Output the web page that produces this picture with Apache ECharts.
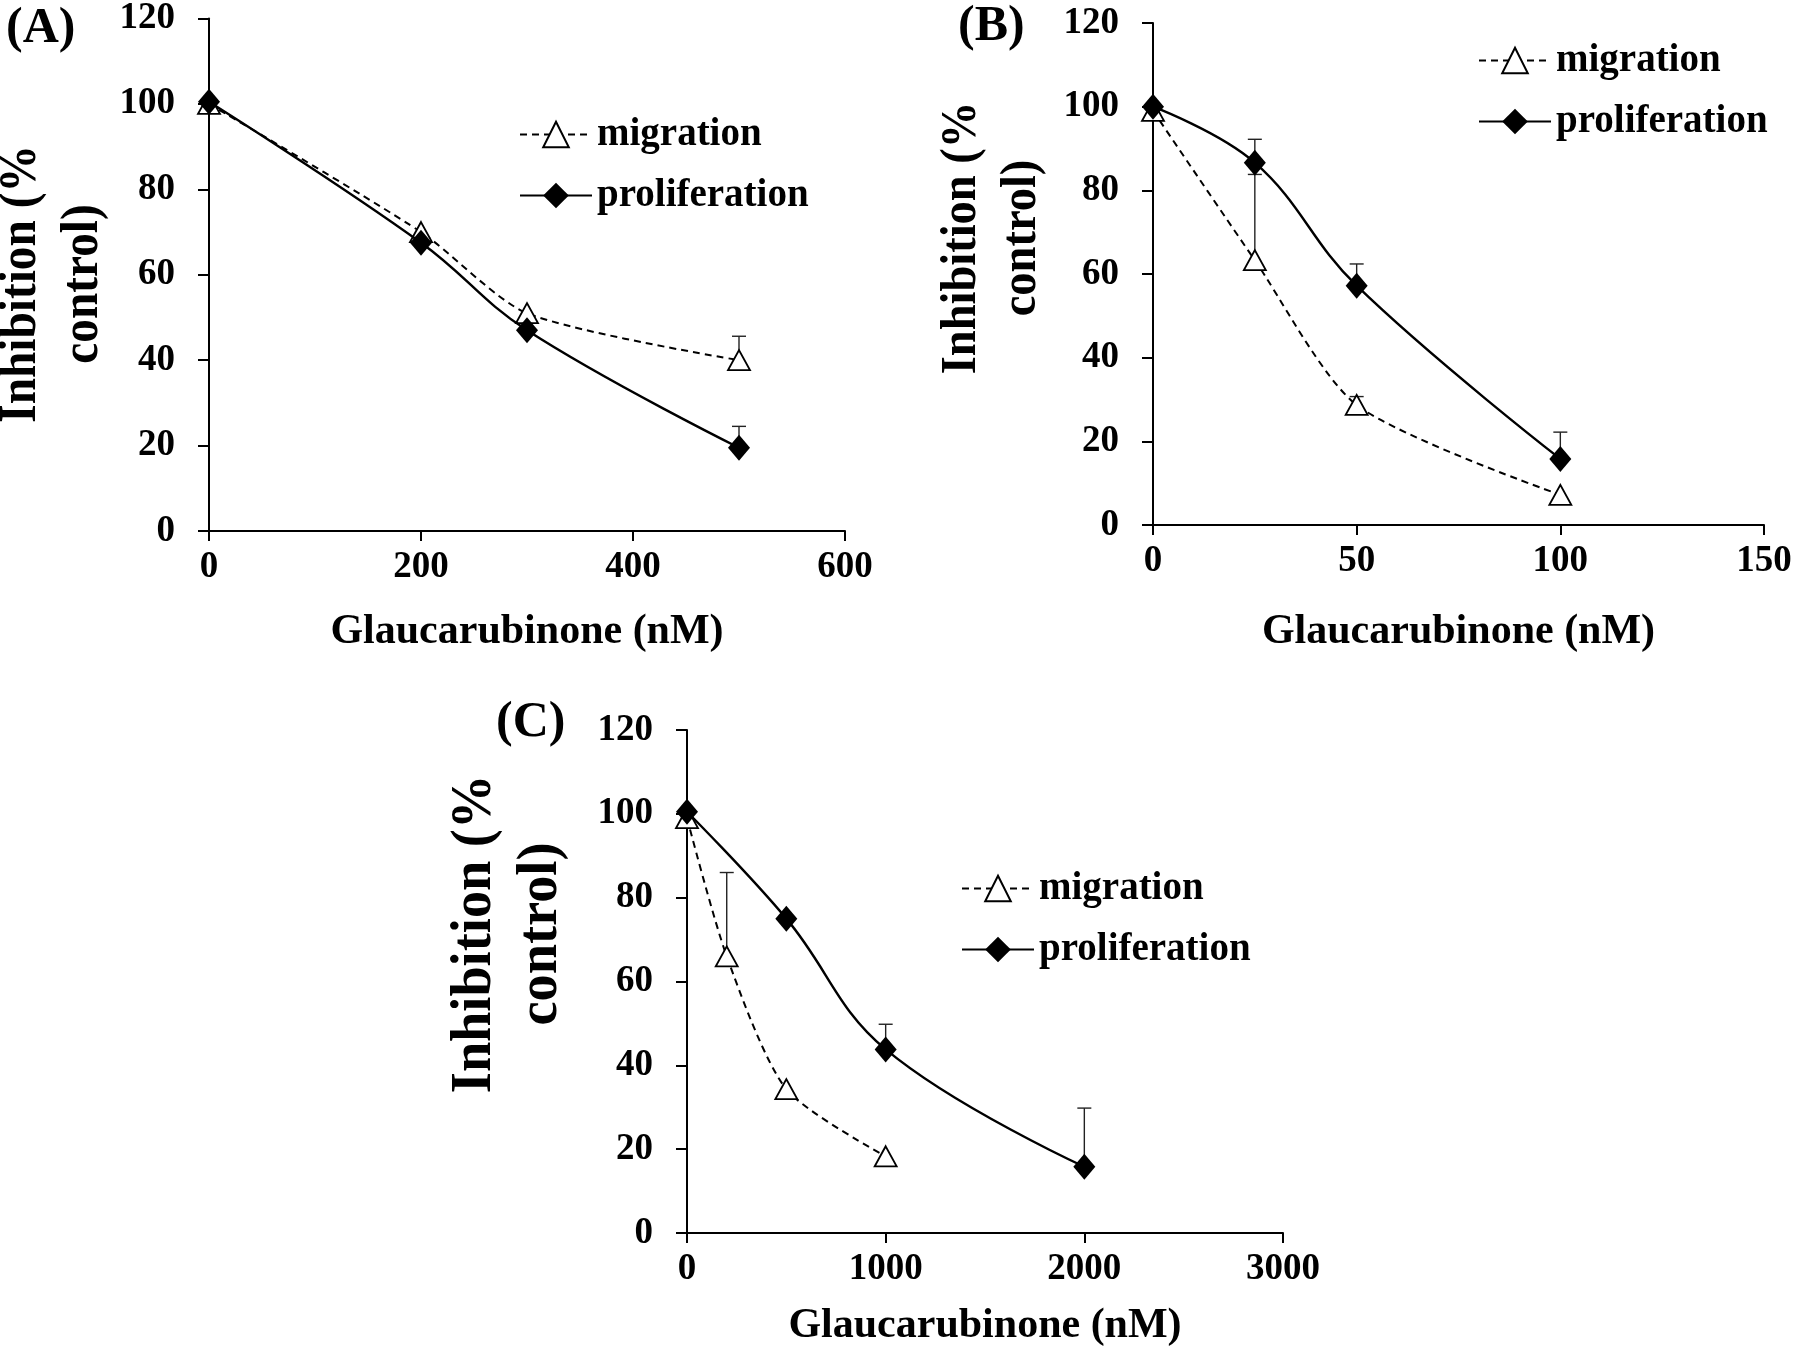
<!DOCTYPE html>
<html>
<head>
<meta charset="utf-8">
<title>Glaucarubinone inhibition</title>
<script src="https://cdn.jsdelivr.net/npm/echarts@6/dist/echarts.min.js"></script>
<style>
  html, body { margin: 0; padding: 0; background: #fff; }
  #chart { width: 1800px; height: 1352px; }
</style>
</head>
<body>
<div id="chart"></div>
<script>
// panel A
const doseA = [0, 200, 300, 500];
const migrationA = [100, 70, 51, 40];
const proliferationA = [100.5, 67.5, 47, 19.5];
const migErrA = [0, 0, 0, 5.6];
const proErrA = [0, 0, 0, 5];

// panel B
const doseB = [0, 25, 50, 100];
const migrationB = [99, 63.3, 28.7, 7.2];
const proliferationB = [100, 86.6, 57.2, 15.8];
const migErrB = [0, 20.5, 2, 0];
const proErrB = [0, 5.6, 5.2, 6.4];

// panel C
const migDoseC = [0, 200, 500, 1000];
const proDoseC = [0, 500, 1000, 2000];
const migrationC = [99, 66, 34.3, 18.3];
const proliferationC = [100.5, 75, 43.8, 15.8];
const migErrC = [0, 20, 0, 0];
const proErrC = [0, 0, 6, 14];

const yTicks = { min: 0, max: 120, interval: 20 };
const xTicksA = { min: 0, max: 600, interval: 200 };
const xTicksB = { min: 0, max: 150, interval: 50 };
const xTicksC = { min: 0, max: 3000, interval: 1000 };

const FONT = '"Liberation Serif", "Times New Roman", serif';

const zip = (xs, ys) => xs.map((x, i) => [x, ys[i]]);
const errData = (xs, ys, es) => xs.map((x, i) => [x, ys[i], ys[i] + es[i]]).filter((d, i) => es[i] > 0);

// plus-only error bar with a small cap
const renderErr = (params, api) => {
  const p0 = api.coord([api.value(0), api.value(1)]);
  const p1 = api.coord([api.value(0), api.value(2)]);
  const st = { stroke: '#222', lineWidth: 1.4 };
  return {
    type: 'group',
    children: [
      { type: 'line', shape: { x1: p0[0], y1: p0[1], x2: p1[0], y2: p1[1] }, style: st },
      { type: 'line', shape: { x1: p1[0] - 7, y1: p1[1], x2: p1[0] + 7, y2: p1[1] }, style: st }
    ]
  };
};

const grids = [
  { left: 209, top: 16, width: 636, height: 515 },
  { left: 1153, top: 23, width: 611, height: 502 },
  { left: 687, top: 730, width: 596, height: 503 }
];

const axisLine = { lineStyle: { color: '#000', width: 2 } };
const tickLabel = { color: '#000', fontFamily: FONT, fontWeight: 'bold', fontSize: 37 };

const makeX = (i, t, gap) => ({
  type: 'value', gridIndex: i, min: t.min, max: t.max, interval: t.interval,
  name: 'Glaucarubinone (nM)', nameLocation: 'middle', nameGap: gap,
  nameTextStyle: { color: '#000', fontFamily: FONT, fontWeight: 'bold', fontSize: 42 },
  axisLine: axisLine, axisTick: { show: true, length: 10, lineStyle: { color: '#000', width: 2 } },
  axisLabel: Object.assign({ margin: 18, formatter: (v) => String(v) }, tickLabel),
  splitLine: { show: false }
});

const makeY = (i) => ({
  type: 'value', gridIndex: i, min: yTicks.min, max: yTicks.max, interval: yTicks.interval,
  axisLine: Object.assign({ show: true }, axisLine),
  axisTick: { show: true, length: 11, lineStyle: { color: '#000', width: 2 } },
  axisLabel: Object.assign({ margin: 34 }, tickLabel),
  splitLine: { show: false }
});

const migLine = (i, data) => ({
  name: 'migration', type: 'line', xAxisIndex: i, yAxisIndex: i, data: data,
  smooth: 0.25, symbol: 'triangle', symbolSize: [22, 20], z: 3,
  itemStyle: { color: '#fff', borderColor: '#000', borderWidth: 1.8 },
  lineStyle: { color: '#000', width: 2, type: [7, 5] }
});

const proLine = (i, data) => ({
  name: 'proliferation', type: 'line', xAxisIndex: i, yAxisIndex: i, data: data,
  smooth: 0.4, symbol: 'diamond', symbolSize: [22, 26], z: 4,
  itemStyle: { color: '#000' },
  lineStyle: { color: '#000', width: 2.4 }
});

const errSeries = (i, data) => ({
  type: 'custom', xAxisIndex: i, yAxisIndex: i, data: data,
  renderItem: renderErr, encode: { x: 0, y: [1, 2] }, z: 2, silent: true
});

const legendAt = (left, top) => ({
  left: left, top: top, orient: 'vertical', itemWidth: 72, itemHeight: 32, itemGap: 22,
  data: ['migration', 'proliferation'],
  textStyle: { color: '#000', fontFamily: FONT, fontWeight: 'bold', fontSize: 39 }
});

const yTitle = (x, y, size, squeeze, lh) => ({
  type: 'text', x: x, y: y, rotation: Math.PI / 2, scaleX: squeeze,
  style: {
    text: 'Inhibition (%\ncontrol)', align: 'center', verticalAlign: 'middle',
    font: 'bold ' + size + 'px ' + FONT, lineHeight: lh, fill: '#000'
  }
});

const panelLabel = (text, x, y) => ({
  type: 'text', left: x, top: y,
  style: { text: text, font: 'bold 50px ' + FONT, fill: '#000' }
});

const chart = echarts.init(document.getElementById('chart'));
chart.setOption({
  backgroundColor: '#fff',
  animation: false,
  grid: grids,
  xAxis: [makeX(0, xTicksA, 80), makeX(1, xTicksB, 86), makeX(2, xTicksC, 72)],
  yAxis: [makeY(0), makeY(1), makeY(2)],
  legend: [legendAt(514, 110), legendAt(1473, 36), legendAt(956, 864)],
  series: [
    errSeries(0, errData(doseA, migrationA, migErrA)),
    errSeries(0, errData(doseA, proliferationA, proErrA)),
    migLine(0, zip(doseA, migrationA)),
    proLine(0, zip(doseA, proliferationA)),
    errSeries(1, errData(doseB, migrationB, migErrB)),
    errSeries(1, errData(doseB, proliferationB, proErrB)),
    migLine(1, zip(doseB, migrationB)),
    proLine(1, zip(doseB, proliferationB)),
    errSeries(2, errData(migDoseC, migrationC, migErrC)),
    errSeries(2, errData(proDoseC, proliferationC, proErrC)),
    migLine(2, zip(migDoseC, migrationC)),
    proLine(2, zip(proDoseC, proliferationC))
  ],
  graphic: [
    yTitle(53, 284, 52, 0.91, 62),
    yTitle(992, 238, 50, 0.93, 60),
    yTitle(509, 934, 56, 0.97, 66),
    panelLabel('(A)', 6, 4),
    panelLabel('(B)', 958, 2),
    panelLabel('(C)', 496, 698)
  ]
});
</script>
</body>
</html>
